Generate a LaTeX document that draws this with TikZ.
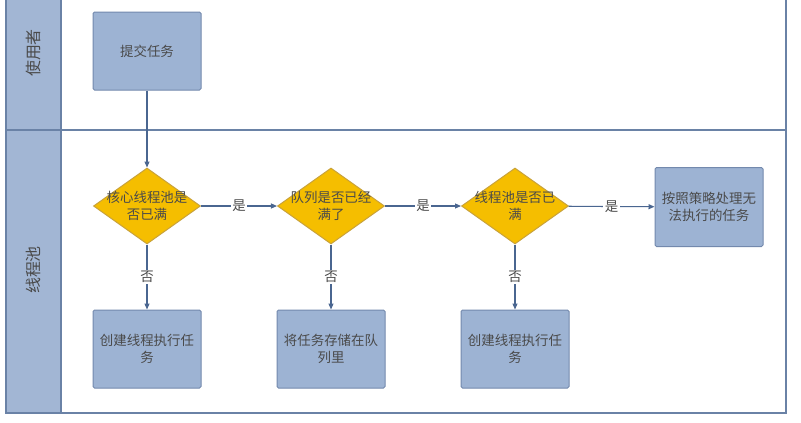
\documentclass[tikz,border=0pt]{standalone}
\usepackage{fontspec}
\usepackage{tikz}
\usetikzlibrary{arrows.meta,shapes.geometric}
\newfontfamily\cjk{Noto Sans CJK SC}
\definecolor{lanefill}{HTML}{A2B6D4}
\definecolor{laneline}{HTML}{6A82A6}
\definecolor{boxfill}{HTML}{9DB3D3}
\definecolor{boxline}{HTML}{7389AD}
\definecolor{decfill}{HTML}{F5BE00}
\definecolor{decline}{HTML}{C9A23A}
\definecolor{flowline}{HTML}{4A6690}
\definecolor{txtgray}{HTML}{4A4A4A}

\begin{document}
\begin{tikzpicture}[x=1bp,y=-1bp,font=\cjk\fontsize{13.5}{16.5}\selectfont,text=txtgray,
  lane/.style={draw=laneline,line width=1.6bp},
  lanelbl/.style={rotate=90,font=\cjk\fontsize{16}{18}\selectfont},
  task/.style={rectangle,draw=boxline,fill=boxfill,line width=1bp,rounded corners=1.5pt,
    minimum width=108bp,minimum height=78bp,text width=100bp,align=center,inner sep=3bp},
  check/.style={diamond,draw=decline,fill=decfill,line width=1bp,aspect=1.43,
    minimum width=107bp,minimum height=76bp,inner sep=0pt,
    label={[align=center,inner sep=0pt]center:#1}},
  lbl/.style={fill=white,inner sep=1.5bp},
  ar/.style={-{Triangle[length=6bp,width=5bp]},draw=flowline,line width=1.1bp}]
\useasboundingbox (0,0) rectangle (801,422);
% swimlanes
\fill[white] (0,0) rectangle (801,422);
\fill[lanefill] (6,-5) rectangle (61,413);
\draw[lane] (6,-5) -- (6,413) -- (786,413) -- (786,-5);
\draw[lane] (61,-5) -- (61,413);
\draw[lane] (6,130) -- (786,130);
\node[lanelbl] (user) at (33,53) {使用者};
\node[lanelbl] (pool) at (33,270) {线程池};
% lane 1
\node[task] (submit) at (147,51) {提交任务};
% lane 2
\node[check={核心线程池是\\否已满}] (core) at (147,206) {};
\node[check={队列是否已经\\满了}] (queue) at (331,206) {};
\node[check={线程池是否已\\满}] (full) at (515,206) {};
\node[task,minimum height=79bp] (reject) at (709,207) {按照策略处理无\\法执行的任务};
\node[task] (run1) at (147,349) {创建线程执行任\\务};
\node[task] (store) at (331,349) {将任务存储在队\\列里};
\node[task] (run2) at (515,349) {创建线程执行任\\务};
\draw[ar] (submit) -- (core);
\draw[ar] (core) -- node[lbl] (y1) {是} (queue);
\draw[ar] (queue) -- node[lbl] (y2) {是} (full);
\draw[ar] (full) -- node[lbl] (y3) {是} (reject);
\draw[ar] (core) -- node[lbl] (n1) {否} (run1);
\draw[ar] (queue) -- node[lbl] (n2) {否} (store);
\draw[ar] (full) -- node[lbl] (n3) {否} (run2);
\end{tikzpicture}
\end{document}
